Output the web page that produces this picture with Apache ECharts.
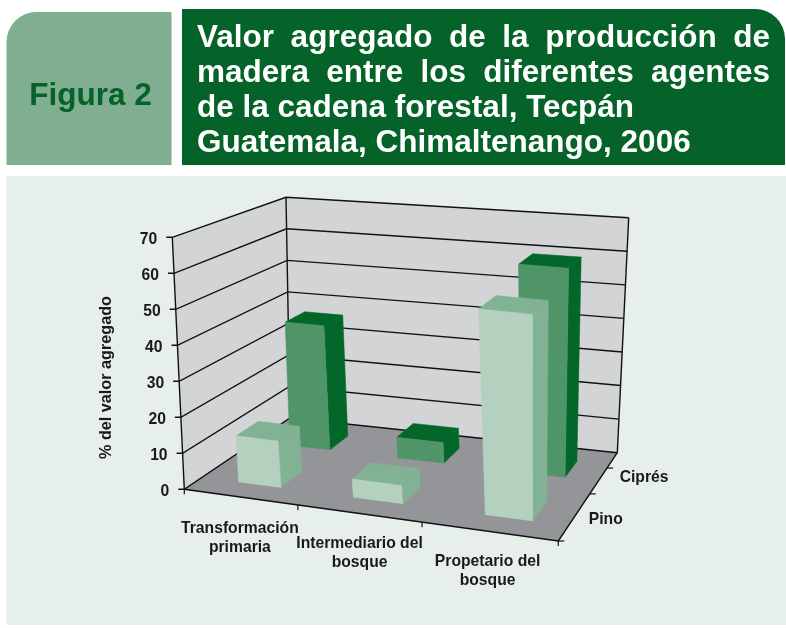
<!DOCTYPE html>
<html>
<head>
<meta charset="utf-8">
<style>
  html, body { margin: 0; padding: 0; background: #fff; }
  #chart { width: 786px; height: 628px; }
</style>
<script src="https://cdn.jsdelivr.net/npm/echarts@6/dist/echarts.min.js"></script>
</head>
<body>
<div id="chart"></div>
<script>
// data
const categories = ["Transformación\nprimaria", "Intermediario del\nbosque", "Propetario del\nbosque"];
const seriesNames = ["Pino", "Ciprés"];
const pinoValues = [13, 5, 56];
const cipresValues = [37, 6, 60];
const valueTicks = [0, 10, 20, 30, 40, 50, 60, 70];
const valueMax = 70;
const axisTitle = "% del valor agregado";
const figureLabel = "Figura 2";
const titleLines = ["Valor agregado de la producción de", "madera entre los diferentes agentes", "de la cadena forestal, Tecpán", "Guatemala, Chimaltenango, 2006"];

// layout of the 3d box: [front-left, front-right, back-right, back-left]
const floorQuad = [[184.3, 489.3], [558.3, 541], [617.3, 452.7], [290, 418]];
const topQuad = [[172.3, 237.3], [565, 278], [628.7, 217.7], [286, 197.3]];
const depthTicks = [0, 0.49, 0.8];
const depthBands = [[0.15, 0.35], [0.64, 0.84]];
const barSpans = [[0.335, 0.715], [0.335, 0.74], [0.385, 0.74]];
const catLabelOffset = [[0, 41], [1, 40], [-1, 40]];
const depthLabelOffset = [[14, 3], [21, -3]];

const FONT = '"Liberation Sans", Arial, sans-serif';
const colors = {
  pino: { front: "#b4d1bf", side: "#82b294" },
  cipres: { front: "#4f9568", side: "#036729" },
  wall: "#d3d4d6",
  floor: "#939598",
  line: "#111111",
  dark: "#056329",
  mid: "#7fae90",
  panel: "#e6efea"
};

// unit square -> quad
function makeHomography(q) {
  const [x0, y0] = q[0], [x1, y1] = q[1], [x2, y2] = q[2], [x3, y3] = q[3];
  const dx1 = x1 - x2, dx2 = x3 - x2, sx = x0 - x1 + x2 - x3;
  const dy1 = y1 - y2, dy2 = y3 - y2, sy = y0 - y1 + y2 - y3;
  const den = dx1 * dy2 - dx2 * dy1;
  const g = (sx * dy2 - dx2 * sy) / den;
  const h = (dx1 * sy - sx * dy1) / den;
  const a = x1 - x0 + g * x1, b = x3 - x0 + h * x3;
  const d = y1 - y0 + g * y1, e = y3 - y0 + h * y3;
  return (u, v) => {
    const w = g * u + h * v + 1;
    return [(a * u + b * v + x0) / w, (d * u + e * v + y0) / w];
  };
}
const floorMap = makeHomography(floorQuad);
const topMap = makeHomography(topQuad);

// u: along categories, v: depth, z: value
function project(u, v, z) {
  const p = floorMap(u, v), t = topMap(u, v), k = z / valueMax;
  return [p[0] + (t[0] - p[0]) * k, p[1] + (t[1] - p[1]) * k];
}

function poly(points, fill) {
  return { type: "polygon", shape: { points }, style: { fill, stroke: fill, lineWidth: 0.5 } };
}
function line(points, width) {
  return {
    type: "polyline", shape: { points },
    style: { fill: "none", stroke: colors.line, lineWidth: width || 1.4 }
  };
}

// walls and floor
function renderBox() {
  return {
    type: "group",
    children: [
      poly([project(0, 0, 0), project(0, 1, 0), project(0, 1, valueMax), project(0, 0, valueMax)], colors.wall),
      poly([project(0, 1, 0), project(1, 1, 0), project(1, 1, valueMax), project(0, 1, valueMax)], colors.wall),
      poly([project(0, 0, 0), project(1, 0, 0), project(1, 1, 0), project(0, 1, 0)], colors.floor),
      line([project(0, 0, 0), project(0, 0, valueMax)]),
      line([project(0, 1, 0), project(0, 1, valueMax)]),
      line([project(1, 1, 0), project(1, 1, valueMax)]),
      line([project(0, 0, 0), project(1, 0, 0), project(1, 1, 0)])
    ]
  };
}

// one gridline per value tick
function renderGrid(params, api) {
  const z = api.value(0);
  const f = project(0, 0, z);
  return {
    type: "group",
    children: [
      line([[f[0] - 6, f[1]], f, project(0, 1, z), project(1, 1, z)])
    ]
  };
}

// category and depth ticks
function renderFloorTicks(params, api) {
  const p = api.value(0) === 0
    ? project(api.value(1), 0, 0)
    : project(1, api.value(1), 0);
  const to = api.value(0) === 0 ? [p[0], p[1] + 5] : [p[0] + 6, p[1]];
  return line([p, to], 1.2);
}

function renderBar(params, api) {
  const cat = api.value(0), band = depthBands[api.value(1)], val = api.value(2);
  const c = api.value(1) === 0 ? colors.pino : colors.cipres;
  const u0 = (cat + barSpans[cat][0]) / 3, u1 = (cat + barSpans[cat][1]) / 3;
  const v0 = band[0], v1 = band[1];
  return {
    type: "group",
    children: [
      poly([project(u1, v0, 0), project(u1, v1, 0), project(u1, v1, val), project(u1, v0, val)], c.side),
      poly([project(u0, v0, val), project(u1, v0, val), project(u1, v1, val), project(u0, v1, val)], c.side),
      poly([project(u0, v0, 0), project(u1, v0, 0), project(u1, v0, val), project(u0, v0, val)], c.front)
    ]
  };
}

// Ciprés goes first so that Pino paints over it
const barData = [];
cipresValues.forEach((v, i) => barData.push([i, 1, v]));
pinoValues.forEach((v, i) => barData.push([i, 0, v]));

const floorTickData = [];
[0, 1, 2, 3].forEach(i => floorTickData.push([0, i / 3]));
depthTicks.forEach(v => floorTickData.push([1, v]));

function text(str, x, y, opts) {
  return {
    type: "text",
    x, y,
    rotation: (opts && opts.rotation) || 0,
    style: Object.assign({
      text: str,
      font: "bold 15.7px " + FONT,
      fill: "#1a1a1a",
      align: "center",
      verticalAlign: "middle",
      lineHeight: 19
    }, opts && opts.style)
  };
}

// first two title lines are justified, so each word is placed on its own
const measureCtx = document.createElement("canvas").getContext("2d");
const TITLE_FONT = "bold 31.5px " + FONT;
function titleElements() {
  const out = [], left = 197, right = 770;
  measureCtx.font = TITLE_FONT;
  titleLines.forEach((lineText, i) => {
    const y = 38.5 + i * 35;
    const base = { font: TITLE_FONT, fill: "#fff", align: "left", verticalAlign: "middle" };
    if (i > 1) {
      out.push(text(lineText, left, y, { style: base }));
      return;
    }
    const words = lineText.split(" ");
    const total = words.reduce((s, w) => s + measureCtx.measureText(w).width, 0);
    const gap = (right - left - total) / (words.length - 1);
    let x = left;
    words.forEach(w => {
      out.push(text(w, x, y, { style: base }));
      x += measureCtx.measureText(w).width + gap;
    });
  });
  return out;
}

const labels = [];
valueTicks.forEach(t => {
  const p = project(0, 0, t);
  labels.push(text(String(t), p[0] - 15, p[1] + 2, { style: { align: "right" } }));
});
categories.forEach((name, i) => {
  const p = project((i + 0.5) / 3, 0, 0);
  labels.push(text(name, p[0] + catLabelOffset[i][0], p[1] + catLabelOffset[i][1]));
});
seriesNames.forEach((name, i) => {
  const next = i + 1 < depthTicks.length ? depthTicks[i + 1] : 1;
  const p = project(1, (depthTicks[i] + next) / 2, 0);
  labels.push(text(name, p[0] + depthLabelOffset[i][0], p[1] + depthLabelOffset[i][1], { style: { align: "left" } }));
});
labels.push(text(axisTitle, 107, 377.5, { rotation: Math.PI / 2, style: { font: "bold 16.2px " + FONT } }));

const chart = echarts.init(document.getElementById("chart"), null, { renderer: "canvas" });
chart.setOption({
  animation: false,
  backgroundColor: "#ffffff",
  graphic: [
    { type: "rect", z: -10, shape: { x: 6.5, y: 176, width: 779.5, height: 449 }, style: { fill: colors.panel } },
    { type: "rect", shape: { x: 6.5, y: 12, width: 165, height: 153, r: [30, 0, 0, 0] }, style: { fill: colors.mid } },
    { type: "rect", shape: { x: 182, y: 9, width: 603, height: 156, r: [0, 30, 0, 0] }, style: { fill: colors.dark } },
    text(figureLabel, 90.5, 96, { style: { font: "bold 31.5px " + FONT, fill: colors.dark } })
  ].concat(titleElements(), labels),
  series: [
    { type: "custom", coordinateSystem: "none", silent: true, z: 1, data: [[0]], renderItem: renderBox },
    { type: "custom", coordinateSystem: "none", silent: true, z: 2, data: valueTicks.map(t => [t]), renderItem: renderGrid },
    { type: "custom", coordinateSystem: "none", silent: true, z: 2, data: floorTickData, renderItem: renderFloorTicks },
    { type: "custom", coordinateSystem: "none", silent: true, z: 3, data: barData, renderItem: renderBar }
  ]
});
</script>
</body>
</html>
